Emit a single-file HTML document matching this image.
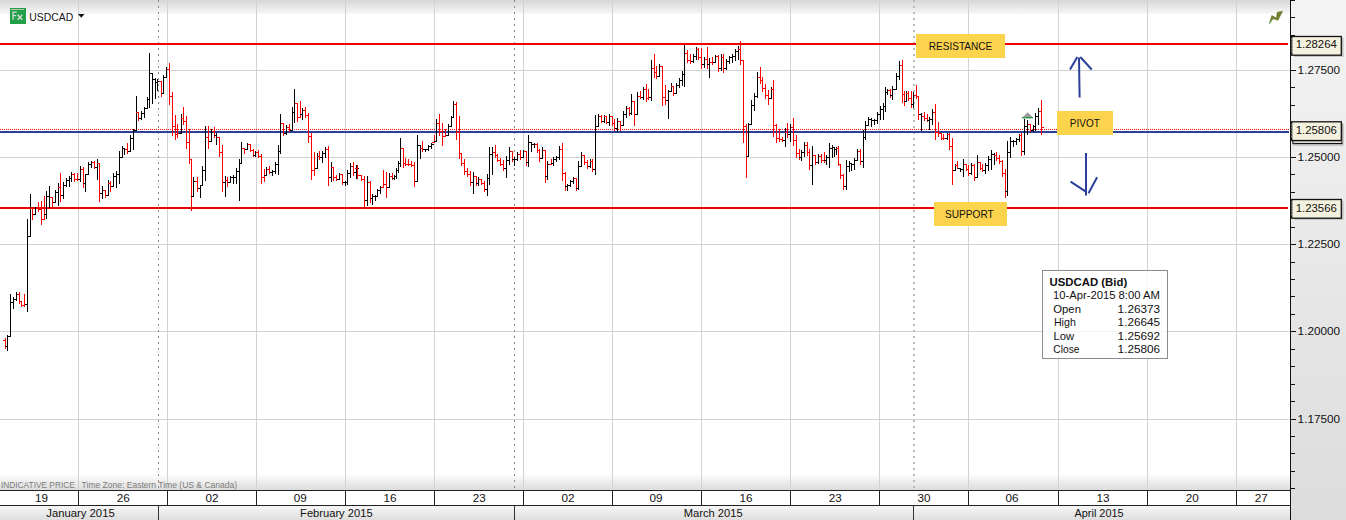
<!DOCTYPE html><html><head><meta charset="utf-8"><style>html,body{margin:0;padding:0;background:#fff}svg{display:block}text{font-family:"Liberation Sans",sans-serif}</style></head><body>
<svg width="1346" height="520" viewBox="0 0 1346 520">
<defs>
<linearGradient id="gtop" x1="0" y1="0" x2="0" y2="1"><stop offset="0" stop-color="#d7d7d7"/><stop offset="1" stop-color="#f8f8f8"/></linearGradient>
<linearGradient id="gbot" x1="0" y1="0" x2="0" y2="1"><stop offset="0" stop-color="#fcfcfc"/><stop offset="1" stop-color="#dcdcdc"/></linearGradient>
<linearGradient id="gright" x1="0" y1="0" x2="0" y2="1"><stop offset="0" stop-color="#f4f4f4"/><stop offset="1" stop-color="#dcdcdc"/></linearGradient>
<linearGradient id="gmonth" x1="0" y1="0" x2="0" y2="1"><stop offset="0" stop-color="#f7f7f7"/><stop offset="1" stop-color="#dedede"/></linearGradient>
</defs>
<rect x="0" y="0" width="1290" height="490" fill="#fff"/>
<rect x="0" y="0" width="1290" height="14" fill="url(#gtop)"/>
<rect x="0" y="475" width="1290" height="15" fill="url(#gbot)"/>
<rect x="1290" y="0" width="56" height="520" fill="url(#gright)"/>
<rect x="0" y="505" width="1290" height="15" fill="url(#gmonth)"/>
<rect x="0" y="490" width="1290" height="15" fill="#fff"/>
<g shape-rendering="crispEdges">
<rect x="0" y="70" width="1290" height="1" fill="#d2d2d2"/>
<rect x="0" y="157" width="1290" height="1" fill="#d2d2d2"/>
<rect x="0" y="244" width="1290" height="1" fill="#d2d2d2"/>
<rect x="0" y="331" width="1290" height="1" fill="#d2d2d2"/>
<rect x="0" y="419" width="1290" height="1" fill="#d2d2d2"/>
<rect x="78" y="0" width="1" height="490" fill="#d2d2d2"/>
<rect x="167" y="0" width="1" height="490" fill="#d2d2d2"/>
<rect x="256" y="0" width="1" height="490" fill="#d2d2d2"/>
<rect x="345" y="0" width="1" height="490" fill="#d2d2d2"/>
<rect x="434" y="0" width="1" height="490" fill="#d2d2d2"/>
<rect x="523" y="0" width="1" height="490" fill="#d2d2d2"/>
<rect x="612" y="0" width="1" height="490" fill="#d2d2d2"/>
<rect x="701" y="0" width="1" height="490" fill="#d2d2d2"/>
<rect x="790" y="0" width="1" height="490" fill="#d2d2d2"/>
<rect x="879" y="0" width="1" height="490" fill="#d2d2d2"/>
<rect x="968" y="0" width="1" height="490" fill="#d2d2d2"/>
<rect x="1058" y="0" width="1" height="490" fill="#d2d2d2"/>
<rect x="1147" y="0" width="1" height="490" fill="#d2d2d2"/>
<rect x="1236" y="0" width="1" height="490" fill="#d2d2d2"/>
<line x1="158.5" y1="0" x2="158.5" y2="490" stroke="#8a8a8a" stroke-width="1" stroke-dasharray="2 4"/>
<line x1="514.5" y1="0" x2="514.5" y2="490" stroke="#8a8a8a" stroke-width="1" stroke-dasharray="2 4"/>
<line x1="914" y1="0" x2="914" y2="490" stroke="#bababa" stroke-width="2" stroke-dasharray="2 4"/>
</g>
<g shape-rendering="crispEdges">
<rect x="0" y="43" width="1288" height="2" fill="#ee0000"/>
<rect x="0" y="207" width="1288" height="2" fill="#ee0000"/>
<line x1="0" y1="129.5" x2="1289" y2="129.5" stroke="#ff0000" stroke-width="1" stroke-dasharray="1 1"/>
<rect x="0" y="131" width="1289" height="2" fill="#2b3f9b"/>
</g>
<g shape-rendering="crispEdges">
<path d="M5 338h1v11h-1zM3 340h2v1h-2zM6 346h2v1h-2z" fill="#f00"/>
<path d="M7 335h1v16h-1zM5 346h2v1h-2zM8 336h2v1h-2z" fill="#000"/>
<path d="M10 294h1v43h-1zM8 336h2v1h-2zM11 302h2v1h-2z" fill="#000"/>
<path d="M13 297h1v12h-1zM11 302h2v1h-2zM14 299h2v1h-2z" fill="#000"/>
<path d="M16 292h1v9h-1zM14 299h2v1h-2zM17 294h2v1h-2z" fill="#000"/>
<path d="M19 292h1v12h-1zM17 294h2v1h-2zM20 301h2v1h-2z" fill="#f00"/>
<path d="M21 301h1v6h-1zM19 301h2v1h-2zM22 305h2v1h-2z" fill="#f00"/>
<path d="M24 294h1v13h-1zM22 305h2v1h-2zM25 304h2v1h-2z" fill="#f00"/>
<path d="M27 219h1v93h-1zM25 304h2v1h-2zM28 236h2v1h-2z" fill="#000"/>
<path d="M30 194h1v43h-1zM28 236h2v1h-2zM31 208h2v1h-2z" fill="#000"/>
<path d="M32 208h1v12h-1zM30 208h2v1h-2zM33 214h2v1h-2z" fill="#f00"/>
<path d="M35 207h1v8h-1zM33 214h2v1h-2zM36 208h2v1h-2z" fill="#000"/>
<path d="M38 202h1v10h-1zM36 208h2v1h-2zM39 209h2v1h-2z" fill="#f00"/>
<path d="M41 201h1v24h-1zM39 209h2v1h-2zM42 219h2v1h-2z" fill="#f00"/>
<path d="M44 196h1v24h-1zM42 219h2v1h-2zM45 214h2v1h-2z" fill="#f00"/>
<path d="M46 191h1v28h-1zM44 214h2v1h-2zM47 196h2v1h-2z" fill="#000"/>
<path d="M49 186h1v22h-1zM47 196h2v1h-2zM50 197h2v1h-2z" fill="#000"/>
<path d="M52 197h1v10h-1zM50 197h2v1h-2zM53 202h2v1h-2z" fill="#f00"/>
<path d="M55 190h1v13h-1zM53 202h2v1h-2zM56 192h2v1h-2z" fill="#000"/>
<path d="M58 183h1v23h-1zM56 192h2v1h-2zM59 187h2v1h-2z" fill="#000"/>
<path d="M60 173h1v29h-1zM58 187h2v1h-2zM61 195h2v1h-2z" fill="#f00"/>
<path d="M63 182h1v17h-1zM61 195h2v1h-2zM64 185h2v1h-2z" fill="#000"/>
<path d="M66 178h1v9h-1zM64 185h2v1h-2zM67 180h2v1h-2z" fill="#000"/>
<path d="M69 176h1v11h-1zM67 180h2v1h-2zM70 178h2v1h-2z" fill="#000"/>
<path d="M71 172h1v10h-1zM69 178h2v1h-2zM72 174h2v1h-2z" fill="#000"/>
<path d="M74 173h1v9h-1zM72 174h2v1h-2zM75 179h2v1h-2z" fill="#f00"/>
<path d="M77 173h1v8h-1zM75 179h2v1h-2zM78 179h2v1h-2z" fill="#f00"/>
<path d="M80 166h1v16h-1zM78 179h2v1h-2zM81 169h2v1h-2z" fill="#000"/>
<path d="M83 167h1v21h-1zM81 169h2v1h-2zM84 183h2v1h-2z" fill="#f00"/>
<path d="M85 174h1v18h-1zM83 183h2v1h-2zM86 174h2v1h-2z" fill="#000"/>
<path d="M88 162h1v13h-1zM86 174h2v1h-2zM89 164h2v1h-2z" fill="#000"/>
<path d="M91 161h1v7h-1zM89 164h2v1h-2zM92 162h2v1h-2z" fill="#000"/>
<path d="M94 161h1v8h-1zM92 162h2v1h-2zM95 167h2v1h-2z" fill="#f00"/>
<path d="M97 159h1v21h-1zM95 167h2v1h-2zM98 163h2v1h-2z" fill="#000"/>
<path d="M99 163h1v39h-1zM97 163h2v1h-2zM100 193h2v1h-2z" fill="#f00"/>
<path d="M102 186h1v13h-1zM100 193h2v1h-2zM103 190h2v1h-2z" fill="#000"/>
<path d="M105 190h1v8h-1zM103 190h2v1h-2zM106 195h2v1h-2z" fill="#f00"/>
<path d="M108 180h1v16h-1zM106 195h2v1h-2zM109 183h2v1h-2z" fill="#000"/>
<path d="M110 181h1v11h-1zM108 183h2v1h-2zM111 186h2v1h-2z" fill="#f00"/>
<path d="M113 173h1v14h-1zM111 186h2v1h-2zM114 176h2v1h-2z" fill="#000"/>
<path d="M116 171h1v17h-1zM114 176h2v1h-2zM117 174h2v1h-2z" fill="#000"/>
<path d="M119 151h1v33h-1zM117 174h2v1h-2zM120 157h2v1h-2z" fill="#000"/>
<path d="M122 146h1v12h-1zM120 157h2v1h-2zM123 148h2v1h-2z" fill="#000"/>
<path d="M124 148h1v7h-1zM122 148h2v1h-2zM125 149h2v1h-2z" fill="#000"/>
<path d="M127 143h1v11h-1zM125 149h2v1h-2zM128 151h2v1h-2z" fill="#f00"/>
<path d="M130 135h1v17h-1zM128 151h2v1h-2zM131 138h2v1h-2z" fill="#000"/>
<path d="M133 129h1v21h-1zM131 138h2v1h-2zM134 130h2v1h-2z" fill="#000"/>
<path d="M136 96h1v35h-1zM134 130h2v1h-2zM137 112h2v1h-2z" fill="#000"/>
<path d="M138 112h1v9h-1zM136 112h2v1h-2zM139 118h2v1h-2z" fill="#f00"/>
<path d="M141 111h1v9h-1zM139 118h2v1h-2zM142 113h2v1h-2z" fill="#000"/>
<path d="M144 107h1v11h-1zM142 113h2v1h-2zM145 108h2v1h-2z" fill="#000"/>
<path d="M147 97h1v12h-1zM145 108h2v1h-2zM148 99h2v1h-2z" fill="#000"/>
<path d="M149 53h1v55h-1zM147 99h2v1h-2zM150 73h2v1h-2z" fill="#000"/>
<path d="M152 73h1v31h-1zM150 73h2v1h-2zM153 79h2v1h-2z" fill="#000"/>
<path d="M155 78h1v21h-1zM153 79h2v1h-2zM156 82h2v1h-2z" fill="#000"/>
<path d="M157 79h1v12h-1zM155 82h2v1h-2zM158 81h2v1h-2z" fill="#000"/>
<path d="M161 81h1v16h-1zM159 81h2v1h-2zM162 93h2v1h-2z" fill="#f00"/>
<path d="M163 75h1v19h-1zM161 93h2v1h-2zM164 77h2v1h-2z" fill="#000"/>
<path d="M166 67h1v11h-1zM164 77h2v1h-2zM167 69h2v1h-2z" fill="#000"/>
<path d="M169 63h1v42h-1zM167 69h2v1h-2zM170 96h2v1h-2z" fill="#f00"/>
<path d="M172 92h1v44h-1zM170 96h2v1h-2zM173 126h2v1h-2z" fill="#f00"/>
<path d="M175 115h1v25h-1zM173 126h2v1h-2zM176 134h2v1h-2z" fill="#f00"/>
<path d="M177 124h1v14h-1zM175 134h2v1h-2zM178 133h2v1h-2z" fill="#f00"/>
<path d="M181 114h1v20h-1zM179 133h2v1h-2zM182 118h2v1h-2z" fill="#000"/>
<path d="M183 107h1v18h-1zM181 118h2v1h-2zM184 121h2v1h-2z" fill="#f00"/>
<path d="M186 116h1v33h-1zM184 121h2v1h-2zM187 142h2v1h-2z" fill="#f00"/>
<path d="M189 129h1v35h-1zM187 142h2v1h-2zM190 159h2v1h-2z" fill="#f00"/>
<path d="M191 159h1v52h-1zM189 159h2v1h-2zM192 196h2v1h-2z" fill="#f00"/>
<path d="M193 177h1v20h-1zM191 196h2v1h-2zM194 181h2v1h-2z" fill="#000"/>
<path d="M197 177h1v15h-1zM195 181h2v1h-2zM198 188h2v1h-2z" fill="#f00"/>
<path d="M200 185h1v13h-1zM198 188h2v1h-2zM201 185h2v1h-2z" fill="#000"/>
<path d="M202 166h1v20h-1zM200 185h2v1h-2zM203 170h2v1h-2z" fill="#000"/>
<path d="M205 126h1v55h-1zM203 170h2v1h-2zM206 137h2v1h-2z" fill="#000"/>
<path d="M208 126h1v23h-1zM206 137h2v1h-2zM209 141h2v1h-2z" fill="#f00"/>
<path d="M211 129h1v13h-1zM209 141h2v1h-2zM212 131h2v1h-2z" fill="#000"/>
<path d="M214 127h1v11h-1zM212 131h2v1h-2zM215 135h2v1h-2z" fill="#f00"/>
<path d="M216 133h1v12h-1zM214 135h2v1h-2zM217 137h2v1h-2z" fill="#000"/>
<path d="M219 137h1v20h-1zM217 137h2v1h-2zM220 152h2v1h-2z" fill="#f00"/>
<path d="M222 145h1v47h-1zM220 152h2v1h-2zM223 182h2v1h-2z" fill="#f00"/>
<path d="M225 176h1v21h-1zM223 182h2v1h-2zM226 180h2v1h-2z" fill="#000"/>
<path d="M227 177h1v10h-1zM225 180h2v1h-2zM228 182h2v1h-2z" fill="#f00"/>
<path d="M230 176h1v7h-1zM228 182h2v1h-2zM231 177h2v1h-2z" fill="#000"/>
<path d="M233 175h1v9h-1zM231 177h2v1h-2zM234 177h2v1h-2z" fill="#000"/>
<path d="M236 168h1v16h-1zM234 177h2v1h-2zM237 171h2v1h-2z" fill="#000"/>
<path d="M239 159h1v42h-1zM237 171h2v1h-2zM240 163h2v1h-2z" fill="#000"/>
<path d="M241 142h1v22h-1zM239 163h2v1h-2zM242 148h2v1h-2z" fill="#000"/>
<path d="M244 148h1v6h-1zM242 148h2v1h-2zM245 149h2v1h-2z" fill="#f00"/>
<path d="M247 143h1v7h-1zM245 149h2v1h-2zM248 144h2v1h-2z" fill="#000"/>
<path d="M250 144h1v8h-1zM248 144h2v1h-2zM251 150h2v1h-2z" fill="#f00"/>
<path d="M253 149h1v8h-1zM251 150h2v1h-2zM254 155h2v1h-2z" fill="#f00"/>
<path d="M255 151h1v6h-1zM253 155h2v1h-2zM256 152h2v1h-2z" fill="#000"/>
<path d="M258 150h1v8h-1zM256 152h2v1h-2zM259 156h2v1h-2z" fill="#f00"/>
<path d="M261 154h1v30h-1zM259 156h2v1h-2zM262 177h2v1h-2z" fill="#f00"/>
<path d="M264 169h1v13h-1zM262 177h2v1h-2zM265 175h2v1h-2z" fill="#f00"/>
<path d="M266 167h1v9h-1zM264 175h2v1h-2zM267 169h2v1h-2z" fill="#000"/>
<path d="M269 166h1v8h-1zM267 169h2v1h-2zM270 172h2v1h-2z" fill="#f00"/>
<path d="M272 170h1v6h-1zM270 172h2v1h-2zM273 171h2v1h-2z" fill="#000"/>
<path d="M275 162h1v12h-1zM273 171h2v1h-2zM276 164h2v1h-2z" fill="#000"/>
<path d="M278 145h1v30h-1zM276 164h2v1h-2zM279 151h2v1h-2z" fill="#000"/>
<path d="M280 114h1v40h-1zM278 151h2v1h-2zM281 123h2v1h-2z" fill="#000"/>
<path d="M283 123h1v13h-1zM281 123h2v1h-2zM284 133h2v1h-2z" fill="#f00"/>
<path d="M286 125h1v10h-1zM284 133h2v1h-2zM287 127h2v1h-2z" fill="#000"/>
<path d="M289 124h1v8h-1zM287 127h2v1h-2zM290 130h2v1h-2z" fill="#f00"/>
<path d="M292 107h1v24h-1zM290 130h2v1h-2zM293 112h2v1h-2z" fill="#000"/>
<path d="M294 89h1v34h-1zM292 112h2v1h-2zM295 103h2v1h-2z" fill="#000"/>
<path d="M297 103h1v19h-1zM295 103h2v1h-2zM298 117h2v1h-2z" fill="#f00"/>
<path d="M300 101h1v17h-1zM298 117h2v1h-2zM301 114h2v1h-2z" fill="#f00"/>
<path d="M302 108h1v12h-1zM300 114h2v1h-2zM303 110h2v1h-2z" fill="#000"/>
<path d="M305 107h1v11h-1zM303 110h2v1h-2zM306 115h2v1h-2z" fill="#f00"/>
<path d="M308 113h1v30h-1zM306 115h2v1h-2zM309 136h2v1h-2z" fill="#f00"/>
<path d="M311 133h1v47h-1zM309 136h2v1h-2zM312 170h2v1h-2z" fill="#f00"/>
<path d="M314 152h1v24h-1zM312 170h2v1h-2zM315 168h2v1h-2z" fill="#f00"/>
<path d="M317 153h1v16h-1zM315 168h2v1h-2zM318 156h2v1h-2z" fill="#000"/>
<path d="M319 151h1v9h-1zM317 156h2v1h-2zM320 157h2v1h-2z" fill="#f00"/>
<path d="M322 151h1v12h-1zM320 157h2v1h-2zM323 153h2v1h-2z" fill="#000"/>
<path d="M325 147h1v11h-1zM323 153h2v1h-2zM326 149h2v1h-2z" fill="#000"/>
<path d="M328 146h1v40h-1zM326 149h2v1h-2zM329 177h2v1h-2z" fill="#f00"/>
<path d="M331 162h1v20h-1zM329 177h2v1h-2zM332 167h2v1h-2z" fill="#000"/>
<path d="M333 167h1v14h-1zM331 167h2v1h-2zM334 177h2v1h-2z" fill="#f00"/>
<path d="M336 175h1v6h-1zM334 177h2v1h-2zM337 179h2v1h-2z" fill="#f00"/>
<path d="M339 173h1v7h-1zM337 179h2v1h-2zM340 174h2v1h-2z" fill="#000"/>
<path d="M342 174h1v11h-1zM340 174h2v1h-2zM343 182h2v1h-2z" fill="#f00"/>
<path d="M345 181h1v5h-1zM343 182h2v1h-2zM346 182h2v1h-2z" fill="#000"/>
<path d="M347 170h1v15h-1zM345 182h2v1h-2zM348 173h2v1h-2z" fill="#000"/>
<path d="M350 163h1v15h-1zM348 173h2v1h-2zM351 166h2v1h-2z" fill="#000"/>
<path d="M353 162h1v14h-1zM351 166h2v1h-2zM354 172h2v1h-2z" fill="#f00"/>
<path d="M356 165h1v14h-1zM354 172h2v1h-2zM357 168h2v1h-2z" fill="#000"/>
<path d="M357 165h1v14h-1zM355 168h2v1h-2zM358 175h2v1h-2z" fill="#f00"/>
<path d="M361 175h1v6h-1zM359 175h2v1h-2zM362 179h2v1h-2z" fill="#f00"/>
<path d="M364 176h1v31h-1zM362 179h2v1h-2zM365 200h2v1h-2z" fill="#f00"/>
<path d="M367 176h1v30h-1zM365 200h2v1h-2zM368 182h2v1h-2z" fill="#000"/>
<path d="M370 181h1v22h-1zM368 182h2v1h-2zM371 198h2v1h-2z" fill="#f00"/>
<path d="M372 194h1v11h-1zM370 198h2v1h-2zM373 196h2v1h-2z" fill="#000"/>
<path d="M375 195h1v6h-1zM373 196h2v1h-2zM376 196h2v1h-2z" fill="#000"/>
<path d="M377 189h1v8h-1zM375 196h2v1h-2zM378 190h2v1h-2z" fill="#000"/>
<path d="M380 186h1v8h-1zM378 190h2v1h-2zM381 187h2v1h-2z" fill="#000"/>
<path d="M383 170h1v18h-1zM381 187h2v1h-2zM384 184h2v1h-2z" fill="#f00"/>
<path d="M386 172h1v26h-1zM384 184h2v1h-2zM387 187h2v1h-2z" fill="#f00"/>
<path d="M389 173h1v15h-1zM387 187h2v1h-2zM390 176h2v1h-2z" fill="#000"/>
<path d="M392 173h1v7h-1zM390 176h2v1h-2zM393 178h2v1h-2z" fill="#f00"/>
<path d="M394 175h1v5h-1zM392 178h2v1h-2zM395 176h2v1h-2z" fill="#000"/>
<path d="M396 168h1v11h-1zM394 176h2v1h-2zM397 170h2v1h-2z" fill="#000"/>
<path d="M398 161h1v12h-1zM396 170h2v1h-2zM399 163h2v1h-2z" fill="#000"/>
<path d="M400 138h1v29h-1zM398 163h2v1h-2zM401 148h2v1h-2z" fill="#000"/>
<path d="M403 148h1v20h-1zM401 148h2v1h-2zM404 163h2v1h-2z" fill="#f00"/>
<path d="M405 158h1v8h-1zM403 163h2v1h-2zM406 164h2v1h-2z" fill="#f00"/>
<path d="M408 159h1v7h-1zM406 164h2v1h-2zM409 164h2v1h-2z" fill="#f00"/>
<path d="M411 161h1v6h-1zM409 164h2v1h-2zM412 165h2v1h-2z" fill="#f00"/>
<path d="M414 162h1v25h-1zM412 165h2v1h-2zM415 181h2v1h-2z" fill="#f00"/>
<path d="M417 135h1v47h-1zM415 181h2v1h-2zM418 145h2v1h-2z" fill="#000"/>
<path d="M420 145h1v14h-1zM418 145h2v1h-2zM421 148h2v1h-2z" fill="#000"/>
<path d="M422 141h1v11h-1zM420 148h2v1h-2zM423 149h2v1h-2z" fill="#f00"/>
<path d="M425 149h1v3h-1zM423 149h2v1h-2zM426 149h2v1h-2z" fill="#000"/>
<path d="M428 145h1v6h-1zM426 149h2v1h-2zM429 146h2v1h-2z" fill="#000"/>
<path d="M431 143h1v6h-1zM429 146h2v1h-2zM432 144h2v1h-2z" fill="#000"/>
<path d="M434 135h1v8h-1zM432 142h2v1h-2zM435 141h2v1h-2z" fill="#f00"/>
<path d="M436 119h1v23h-1zM434 141h2v1h-2zM437 123h2v1h-2z" fill="#000"/>
<path d="M439 114h1v22h-1zM437 123h2v1h-2zM440 131h2v1h-2z" fill="#f00"/>
<path d="M442 123h1v23h-1zM440 131h2v1h-2zM443 136h2v1h-2z" fill="#f00"/>
<path d="M445 129h1v8h-1zM443 136h2v1h-2zM446 135h2v1h-2z" fill="#f00"/>
<path d="M448 124h1v12h-1zM446 135h2v1h-2zM449 126h2v1h-2z" fill="#000"/>
<path d="M451 116h1v11h-1zM449 126h2v1h-2zM452 117h2v1h-2z" fill="#000"/>
<path d="M453 101h1v17h-1zM451 117h2v1h-2zM454 104h2v1h-2z" fill="#000"/>
<path d="M456 102h1v38h-1zM454 104h2v1h-2zM457 132h2v1h-2z" fill="#f00"/>
<path d="M459 116h1v43h-1zM457 132h2v1h-2zM460 153h2v1h-2z" fill="#f00"/>
<path d="M461 153h1v13h-1zM459 153h2v1h-2zM462 163h2v1h-2z" fill="#f00"/>
<path d="M464 159h1v16h-1zM462 163h2v1h-2zM465 171h2v1h-2z" fill="#f00"/>
<path d="M467 168h1v9h-1zM465 171h2v1h-2zM468 174h2v1h-2z" fill="#f00"/>
<path d="M470 171h1v15h-1zM468 174h2v1h-2zM471 182h2v1h-2z" fill="#f00"/>
<path d="M473 172h1v22h-1zM471 182h2v1h-2zM474 176h2v1h-2z" fill="#000"/>
<path d="M476 176h1v10h-1zM474 176h2v1h-2zM477 183h2v1h-2z" fill="#f00"/>
<path d="M478 177h1v9h-1zM476 183h2v1h-2zM479 179h2v1h-2z" fill="#000"/>
<path d="M481 179h1v6h-1zM479 179h2v1h-2zM482 183h2v1h-2z" fill="#f00"/>
<path d="M484 181h1v11h-1zM482 183h2v1h-2zM485 189h2v1h-2z" fill="#f00"/>
<path d="M487 174h1v22h-1zM485 189h2v1h-2zM488 178h2v1h-2z" fill="#000"/>
<path d="M489 147h1v38h-1zM487 178h2v1h-2zM490 154h2v1h-2z" fill="#000"/>
<path d="M492 147h1v28h-1zM490 154h2v1h-2zM493 152h2v1h-2z" fill="#000"/>
<path d="M495 145h1v13h-1zM493 152h2v1h-2zM496 155h2v1h-2z" fill="#f00"/>
<path d="M497 154h1v8h-1zM495 155h2v1h-2zM498 160h2v1h-2z" fill="#f00"/>
<path d="M500 158h1v8h-1zM498 160h2v1h-2zM501 164h2v1h-2z" fill="#f00"/>
<path d="M503 160h1v11h-1zM501 164h2v1h-2zM504 168h2v1h-2z" fill="#f00"/>
<path d="M506 156h1v22h-1zM504 168h2v1h-2zM507 160h2v1h-2z" fill="#000"/>
<path d="M509 147h1v18h-1zM507 160h2v1h-2zM510 151h2v1h-2z" fill="#000"/>
<path d="M512 151h1v11h-1zM510 151h2v1h-2zM513 159h2v1h-2z" fill="#f00"/>
<path d="M514 157h1v9h-1zM512 159h2v1h-2zM515 159h2v1h-2z" fill="#000"/>
<path d="M517 152h1v9h-1zM515 159h2v1h-2zM518 154h2v1h-2z" fill="#000"/>
<path d="M520 150h1v10h-1zM518 154h2v1h-2zM521 157h2v1h-2z" fill="#f00"/>
<path d="M523 150h1v8h-1zM521 157h2v1h-2zM524 151h2v1h-2z" fill="#000"/>
<path d="M526 151h1v15h-1zM524 151h2v1h-2zM527 162h2v1h-2z" fill="#f00"/>
<path d="M528 135h1v32h-1zM526 162h2v1h-2zM529 142h2v1h-2z" fill="#000"/>
<path d="M531 142h1v10h-1zM529 142h2v1h-2zM532 144h2v1h-2z" fill="#000"/>
<path d="M534 143h1v5h-1zM532 144h2v1h-2zM535 144h2v1h-2z" fill="#000"/>
<path d="M537 143h1v10h-1zM535 144h2v1h-2zM538 150h2v1h-2z" fill="#f00"/>
<path d="M539 149h1v13h-1zM537 150h2v1h-2zM540 158h2v1h-2z" fill="#f00"/>
<path d="M542 147h1v12h-1zM540 158h2v1h-2zM543 150h2v1h-2z" fill="#000"/>
<path d="M545 150h1v33h-1zM543 150h2v1h-2zM546 176h2v1h-2z" fill="#f00"/>
<path d="M547 161h1v19h-1zM545 176h2v1h-2zM548 164h2v1h-2z" fill="#000"/>
<path d="M551 159h1v6h-1zM549 164h2v1h-2zM552 163h2v1h-2z" fill="#f00"/>
<path d="M553 157h1v9h-1zM551 163h2v1h-2zM554 159h2v1h-2z" fill="#000"/>
<path d="M556 156h1v6h-1zM554 159h2v1h-2zM557 157h2v1h-2z" fill="#000"/>
<path d="M559 146h1v14h-1zM557 157h2v1h-2zM560 149h2v1h-2z" fill="#000"/>
<path d="M562 143h1v38h-1zM560 149h2v1h-2zM563 173h2v1h-2z" fill="#f00"/>
<path d="M565 172h1v19h-1zM563 173h2v1h-2zM566 186h2v1h-2z" fill="#f00"/>
<path d="M567 184h1v7h-1zM565 186h2v1h-2zM568 185h2v1h-2z" fill="#000"/>
<path d="M570 180h1v7h-1zM568 185h2v1h-2zM571 181h2v1h-2z" fill="#000"/>
<path d="M573 177h1v7h-1zM571 181h2v1h-2zM574 178h2v1h-2z" fill="#000"/>
<path d="M576 178h1v13h-1zM574 178h2v1h-2zM577 188h2v1h-2z" fill="#f00"/>
<path d="M578 161h1v29h-1zM576 188h2v1h-2zM579 166h2v1h-2z" fill="#000"/>
<path d="M581 152h1v15h-1zM579 166h2v1h-2zM582 155h2v1h-2z" fill="#000"/>
<path d="M584 155h1v10h-1zM582 155h2v1h-2zM585 162h2v1h-2z" fill="#f00"/>
<path d="M587 160h1v9h-1zM585 162h2v1h-2zM588 166h2v1h-2z" fill="#f00"/>
<path d="M590 159h1v9h-1zM588 166h2v1h-2zM591 161h2v1h-2z" fill="#000"/>
<path d="M592 159h1v13h-1zM590 161h2v1h-2zM593 169h2v1h-2z" fill="#f00"/>
<path d="M595 115h1v60h-1zM593 169h2v1h-2zM596 126h2v1h-2z" fill="#000"/>
<path d="M598 114h1v13h-1zM596 126h2v1h-2zM599 116h2v1h-2z" fill="#000"/>
<path d="M601 115h1v8h-1zM599 116h2v1h-2zM602 121h2v1h-2z" fill="#f00"/>
<path d="M604 115h1v8h-1zM602 121h2v1h-2zM605 116h2v1h-2z" fill="#000"/>
<path d="M606 116h1v8h-1zM604 116h2v1h-2zM607 122h2v1h-2z" fill="#f00"/>
<path d="M609 114h1v12h-1zM607 122h2v1h-2zM610 116h2v1h-2z" fill="#000"/>
<path d="M612 116h1v10h-1zM610 116h2v1h-2zM613 123h2v1h-2z" fill="#f00"/>
<path d="M614 119h1v12h-1zM612 123h2v1h-2zM615 128h2v1h-2z" fill="#f00"/>
<path d="M617 118h1v14h-1zM615 128h2v1h-2zM618 121h2v1h-2z" fill="#000"/>
<path d="M620 121h1v10h-1zM618 121h2v1h-2zM621 125h2v1h-2z" fill="#f00"/>
<path d="M623 111h1v15h-1zM621 125h2v1h-2zM624 114h2v1h-2z" fill="#000"/>
<path d="M626 106h1v12h-1zM624 114h2v1h-2zM627 108h2v1h-2z" fill="#000"/>
<path d="M629 107h1v9h-1zM627 108h2v1h-2zM630 113h2v1h-2z" fill="#f00"/>
<path d="M631 94h1v21h-1zM629 113h2v1h-2zM632 101h2v1h-2z" fill="#000"/>
<path d="M634 101h1v25h-1zM632 101h2v1h-2zM635 114h2v1h-2z" fill="#f00"/>
<path d="M637 92h1v23h-1zM635 114h2v1h-2zM638 96h2v1h-2z" fill="#000"/>
<path d="M640 91h1v8h-1zM638 96h2v1h-2zM641 97h2v1h-2z" fill="#f00"/>
<path d="M643 87h1v13h-1zM641 97h2v1h-2zM644 89h2v1h-2z" fill="#000"/>
<path d="M646 84h1v18h-1zM644 89h2v1h-2zM647 98h2v1h-2z" fill="#f00"/>
<path d="M648 89h1v11h-1zM646 98h2v1h-2zM649 97h2v1h-2z" fill="#f00"/>
<path d="M651 60h1v41h-1zM649 97h2v1h-2zM652 68h2v1h-2z" fill="#000"/>
<path d="M654 54h1v24h-1zM652 68h2v1h-2zM655 72h2v1h-2z" fill="#f00"/>
<path d="M656 66h1v13h-1zM654 72h2v1h-2zM657 76h2v1h-2z" fill="#f00"/>
<path d="M659 64h1v13h-1zM657 76h2v1h-2zM660 66h2v1h-2z" fill="#000"/>
<path d="M662 66h1v40h-1zM660 66h2v1h-2zM663 97h2v1h-2z" fill="#f00"/>
<path d="M665 85h1v20h-1zM663 97h2v1h-2zM666 100h2v1h-2z" fill="#f00"/>
<path d="M668 90h1v29h-1zM666 100h2v1h-2zM669 91h2v1h-2z" fill="#000"/>
<path d="M671 83h1v9h-1zM669 91h2v1h-2zM672 86h2v1h-2z" fill="#000"/>
<path d="M673 86h1v10h-1zM671 86h2v1h-2zM674 93h2v1h-2z" fill="#f00"/>
<path d="M676 83h1v11h-1zM674 93h2v1h-2zM677 85h2v1h-2z" fill="#000"/>
<path d="M679 78h1v10h-1zM677 85h2v1h-2zM680 80h2v1h-2z" fill="#000"/>
<path d="M682 71h1v15h-1zM680 80h2v1h-2zM683 74h2v1h-2z" fill="#000"/>
<path d="M684 45h1v42h-1zM682 74h2v1h-2zM685 53h2v1h-2z" fill="#000"/>
<path d="M687 50h1v13h-1zM685 53h2v1h-2zM688 60h2v1h-2z" fill="#f00"/>
<path d="M690 54h1v10h-1zM688 60h2v1h-2zM691 61h2v1h-2z" fill="#f00"/>
<path d="M693 54h1v9h-1zM691 61h2v1h-2zM694 56h2v1h-2z" fill="#000"/>
<path d="M696 47h1v13h-1zM694 56h2v1h-2zM697 49h2v1h-2z" fill="#000"/>
<path d="M698 48h1v12h-1zM696 49h2v1h-2zM699 57h2v1h-2z" fill="#f00"/>
<path d="M701 48h1v21h-1zM699 57h2v1h-2zM702 64h2v1h-2z" fill="#f00"/>
<path d="M704 57h1v11h-1zM702 64h2v1h-2zM705 59h2v1h-2z" fill="#000"/>
<path d="M707 47h1v22h-1zM705 59h2v1h-2zM708 64h2v1h-2z" fill="#f00"/>
<path d="M709 58h1v20h-1zM707 64h2v1h-2zM710 62h2v1h-2z" fill="#000"/>
<path d="M712 57h1v8h-1zM710 62h2v1h-2zM713 62h2v1h-2z" fill="#f00"/>
<path d="M715 55h1v8h-1zM713 62h2v1h-2zM716 56h2v1h-2z" fill="#000"/>
<path d="M718 55h1v17h-1zM716 56h2v1h-2zM719 68h2v1h-2z" fill="#f00"/>
<path d="M721 54h1v17h-1zM719 68h2v1h-2zM722 57h2v1h-2z" fill="#000"/>
<path d="M723 54h1v19h-1zM721 57h2v1h-2zM724 68h2v1h-2z" fill="#f00"/>
<path d="M726 59h1v11h-1zM724 68h2v1h-2zM727 61h2v1h-2z" fill="#000"/>
<path d="M729 56h1v8h-1zM727 61h2v1h-2zM730 57h2v1h-2z" fill="#000"/>
<path d="M732 54h1v9h-1zM730 57h2v1h-2zM733 56h2v1h-2z" fill="#000"/>
<path d="M735 49h1v12h-1zM733 56h2v1h-2zM736 51h2v1h-2z" fill="#000"/>
<path d="M738 46h1v14h-1zM736 51h2v1h-2zM739 49h2v1h-2z" fill="#000"/>
<path d="M740 41h1v24h-1zM738 49h2v1h-2zM741 60h2v1h-2z" fill="#f00"/>
<path d="M743 60h1v83h-1zM741 60h2v1h-2zM744 126h2v1h-2z" fill="#f00"/>
<path d="M746 124h1v54h-1zM744 126h2v1h-2zM747 156h2v1h-2z" fill="#f00"/>
<path d="M748 123h1v34h-1zM746 156h2v1h-2zM749 124h2v1h-2z" fill="#000"/>
<path d="M751 100h1v25h-1zM749 124h2v1h-2zM752 105h2v1h-2z" fill="#000"/>
<path d="M754 93h1v18h-1zM752 105h2v1h-2zM755 96h2v1h-2z" fill="#000"/>
<path d="M757 72h1v26h-1zM755 96h2v1h-2zM758 77h2v1h-2z" fill="#000"/>
<path d="M760 67h1v17h-1zM758 77h2v1h-2zM761 80h2v1h-2z" fill="#f00"/>
<path d="M762 77h1v15h-1zM760 80h2v1h-2zM763 88h2v1h-2z" fill="#f00"/>
<path d="M765 84h1v15h-1zM763 88h2v1h-2zM766 95h2v1h-2z" fill="#f00"/>
<path d="M768 90h1v15h-1zM766 95h2v1h-2zM769 98h2v1h-2z" fill="#f00"/>
<path d="M771 87h1v12h-1zM769 98h2v1h-2zM772 89h2v1h-2z" fill="#000"/>
<path d="M773 80h1v57h-1zM771 89h2v1h-2zM774 125h2v1h-2z" fill="#f00"/>
<path d="M776 124h1v19h-1zM774 125h2v1h-2zM777 138h2v1h-2z" fill="#f00"/>
<path d="M779 129h1v13h-1zM777 138h2v1h-2zM780 139h2v1h-2z" fill="#f00"/>
<path d="M782 137h1v5h-1zM780 139h2v1h-2zM783 140h2v1h-2z" fill="#f00"/>
<path d="M785 128h1v19h-1zM783 140h2v1h-2zM786 132h2v1h-2z" fill="#000"/>
<path d="M787 123h1v15h-1zM785 132h2v1h-2zM788 134h2v1h-2z" fill="#f00"/>
<path d="M790 124h1v18h-1zM788 134h2v1h-2zM791 127h2v1h-2z" fill="#000"/>
<path d="M793 118h1v28h-1zM791 127h2v1h-2zM794 140h2v1h-2z" fill="#f00"/>
<path d="M796 135h1v23h-1zM794 140h2v1h-2zM797 153h2v1h-2z" fill="#f00"/>
<path d="M799 149h1v11h-1zM797 153h2v1h-2zM800 157h2v1h-2z" fill="#f00"/>
<path d="M801 150h1v11h-1zM799 157h2v1h-2zM802 152h2v1h-2z" fill="#000"/>
<path d="M804 142h1v15h-1zM802 152h2v1h-2zM805 145h2v1h-2z" fill="#000"/>
<path d="M807 142h1v14h-1zM805 145h2v1h-2zM808 152h2v1h-2z" fill="#f00"/>
<path d="M809 149h1v21h-1zM807 152h2v1h-2zM810 165h2v1h-2z" fill="#f00"/>
<path d="M812 146h1v39h-1zM810 165h2v1h-2zM813 155h2v1h-2z" fill="#000"/>
<path d="M815 155h1v10h-1zM813 155h2v1h-2zM816 162h2v1h-2z" fill="#f00"/>
<path d="M818 154h1v10h-1zM816 162h2v1h-2zM819 156h2v1h-2z" fill="#000"/>
<path d="M821 154h1v9h-1zM819 156h2v1h-2zM822 160h2v1h-2z" fill="#f00"/>
<path d="M824 152h1v11h-1zM822 160h2v1h-2zM825 160h2v1h-2z" fill="#f00"/>
<path d="M826 155h1v10h-1zM824 160h2v1h-2zM827 157h2v1h-2z" fill="#000"/>
<path d="M829 143h1v25h-1zM827 157h2v1h-2zM830 148h2v1h-2z" fill="#000"/>
<path d="M832 145h1v13h-1zM830 148h2v1h-2zM833 147h2v1h-2z" fill="#000"/>
<path d="M834 147h1v10h-1zM832 147h2v1h-2zM835 149h2v1h-2z" fill="#000"/>
<path d="M836 147h1v8h-1zM834 149h2v1h-2zM837 148h2v1h-2z" fill="#000"/>
<path d="M838 146h1v20h-1zM836 148h2v1h-2zM839 164h2v1h-2z" fill="#f00"/>
<path d="M840 164h1v15h-1zM838 164h2v1h-2zM841 175h2v1h-2z" fill="#f00"/>
<path d="M843 174h1v16h-1zM841 175h2v1h-2zM844 186h2v1h-2z" fill="#f00"/>
<path d="M846 160h1v30h-1zM844 186h2v1h-2zM847 166h2v1h-2z" fill="#000"/>
<path d="M849 161h1v11h-1zM847 166h2v1h-2zM850 163h2v1h-2z" fill="#000"/>
<path d="M851 163h1v8h-1zM849 163h2v1h-2zM852 164h2v1h-2z" fill="#000"/>
<path d="M854 158h1v12h-1zM852 164h2v1h-2zM855 160h2v1h-2z" fill="#000"/>
<path d="M857 149h1v12h-1zM855 160h2v1h-2zM858 151h2v1h-2z" fill="#000"/>
<path d="M860 149h1v16h-1zM858 151h2v1h-2zM861 161h2v1h-2z" fill="#f00"/>
<path d="M863 130h1v38h-1zM861 161h2v1h-2zM864 137h2v1h-2z" fill="#000"/>
<path d="M865 121h1v19h-1zM863 137h2v1h-2zM866 125h2v1h-2z" fill="#000"/>
<path d="M868 117h1v9h-1zM866 125h2v1h-2zM869 119h2v1h-2z" fill="#000"/>
<path d="M871 118h1v9h-1zM869 119h2v1h-2zM872 120h2v1h-2z" fill="#000"/>
<path d="M874 119h1v6h-1zM872 120h2v1h-2zM875 120h2v1h-2z" fill="#000"/>
<path d="M877 112h1v12h-1zM875 120h2v1h-2zM878 114h2v1h-2z" fill="#000"/>
<path d="M880 106h1v14h-1zM878 114h2v1h-2zM881 109h2v1h-2z" fill="#000"/>
<path d="M883 103h1v17h-1zM881 109h2v1h-2zM884 106h2v1h-2z" fill="#000"/>
<path d="M885 87h1v25h-1zM883 106h2v1h-2zM886 92h2v1h-2z" fill="#000"/>
<path d="M887 89h1v6h-1zM885 92h2v1h-2zM888 90h2v1h-2z" fill="#000"/>
<path d="M890 89h1v9h-1zM888 90h2v1h-2zM891 95h2v1h-2z" fill="#f00"/>
<path d="M892 86h1v14h-1zM890 95h2v1h-2zM893 89h2v1h-2z" fill="#000"/>
<path d="M896 73h1v17h-1zM894 89h2v1h-2zM897 76h2v1h-2z" fill="#000"/>
<path d="M899 61h1v19h-1zM897 76h2v1h-2zM900 65h2v1h-2z" fill="#000"/>
<path d="M902 60h1v43h-1zM900 65h2v1h-2zM903 94h2v1h-2z" fill="#f00"/>
<path d="M904 91h1v15h-1zM902 94h2v1h-2zM905 101h2v1h-2z" fill="#f00"/>
<path d="M906 91h1v11h-1zM904 101h2v1h-2zM907 93h2v1h-2z" fill="#000"/>
<path d="M908 91h1v10h-1zM906 93h2v1h-2zM909 98h2v1h-2z" fill="#f00"/>
<path d="M911 91h1v17h-1zM909 98h2v1h-2zM912 104h2v1h-2z" fill="#f00"/>
<path d="M913 92h1v16h-1zM911 104h2v1h-2zM914 95h2v1h-2z" fill="#000"/>
<path d="M916 85h1v14h-1zM914 95h2v1h-2zM917 96h2v1h-2z" fill="#f00"/>
<path d="M918 96h1v24h-1zM916 96h2v1h-2zM919 114h2v1h-2z" fill="#f00"/>
<path d="M921 113h1v18h-1zM919 114h2v1h-2zM922 116h2v1h-2z" fill="#000"/>
<path d="M924 112h1v9h-1zM922 116h2v1h-2zM925 118h2v1h-2z" fill="#f00"/>
<path d="M927 114h1v8h-1zM925 118h2v1h-2zM928 120h2v1h-2z" fill="#f00"/>
<path d="M929 117h1v13h-1zM927 120h2v1h-2zM930 119h2v1h-2z" fill="#000"/>
<path d="M932 109h1v16h-1zM930 119h2v1h-2zM933 112h2v1h-2z" fill="#000"/>
<path d="M935 104h1v36h-1zM933 112h2v1h-2zM936 132h2v1h-2z" fill="#f00"/>
<path d="M938 122h1v15h-1zM936 132h2v1h-2zM939 133h2v1h-2z" fill="#f00"/>
<path d="M941 133h1v7h-1zM939 133h2v1h-2zM942 138h2v1h-2z" fill="#f00"/>
<path d="M943 134h1v6h-1zM941 138h2v1h-2zM944 138h2v1h-2z" fill="#f00"/>
<path d="M947 133h1v7h-1zM945 138h2v1h-2zM948 134h2v1h-2z" fill="#000"/>
<path d="M949 133h1v17h-1zM947 134h2v1h-2zM950 146h2v1h-2z" fill="#f00"/>
<path d="M952 138h1v47h-1zM950 146h2v1h-2zM953 170h2v1h-2z" fill="#f00"/>
<path d="M955 164h1v7h-1zM953 170h2v1h-2zM956 165h2v1h-2z" fill="#000"/>
<path d="M957 161h1v8h-1zM955 165h2v1h-2zM958 168h2v1h-2z" fill="#f00"/>
<path d="M960 168h1v4h-1zM958 168h2v1h-2zM961 169h2v1h-2z" fill="#000"/>
<path d="M963 159h1v18h-1zM961 169h2v1h-2zM964 164h2v1h-2z" fill="#000"/>
<path d="M966 164h1v7h-1zM964 164h2v1h-2zM967 169h2v1h-2z" fill="#f00"/>
<path d="M968 165h1v11h-1zM966 169h2v1h-2zM969 173h2v1h-2z" fill="#f00"/>
<path d="M971 163h1v12h-1zM969 173h2v1h-2zM972 165h2v1h-2z" fill="#000"/>
<path d="M974 164h1v17h-1zM972 165h2v1h-2zM975 177h2v1h-2z" fill="#f00"/>
<path d="M977 155h1v23h-1zM975 177h2v1h-2zM978 162h2v1h-2z" fill="#000"/>
<path d="M980 162h1v8h-1zM978 162h2v1h-2zM981 168h2v1h-2z" fill="#f00"/>
<path d="M982 164h1v8h-1zM980 168h2v1h-2zM983 170h2v1h-2z" fill="#f00"/>
<path d="M985 163h1v11h-1zM983 170h2v1h-2zM986 165h2v1h-2z" fill="#000"/>
<path d="M988 156h1v15h-1zM986 165h2v1h-2zM989 159h2v1h-2z" fill="#000"/>
<path d="M991 150h1v20h-1zM989 159h2v1h-2zM992 154h2v1h-2z" fill="#000"/>
<path d="M994 153h1v12h-1zM992 154h2v1h-2zM995 155h2v1h-2z" fill="#000"/>
<path d="M996 152h1v9h-1zM994 155h2v1h-2zM997 158h2v1h-2z" fill="#f00"/>
<path d="M999 155h1v9h-1zM997 158h2v1h-2zM1000 161h2v1h-2z" fill="#f00"/>
<path d="M1002 160h1v17h-1zM1000 161h2v1h-2zM1003 173h2v1h-2z" fill="#f00"/>
<path d="M1005 169h1v29h-1zM1003 173h2v1h-2zM1006 191h2v1h-2z" fill="#f00"/>
<path d="M1007 141h1v55h-1zM1005 191h2v1h-2zM1008 152h2v1h-2z" fill="#000"/>
<path d="M1010 137h1v21h-1zM1008 152h2v1h-2zM1011 141h2v1h-2z" fill="#000"/>
<path d="M1013 140h1v7h-1zM1011 141h2v1h-2zM1014 141h2v1h-2z" fill="#000"/>
<path d="M1016 138h1v7h-1zM1014 141h2v1h-2zM1017 139h2v1h-2z" fill="#000"/>
<path d="M1019 134h1v8h-1zM1017 139h2v1h-2zM1020 135h2v1h-2z" fill="#000"/>
<path d="M1021 133h1v23h-1zM1019 135h2v1h-2zM1022 151h2v1h-2z" fill="#f00"/>
<path d="M1024 119h1v36h-1zM1022 151h2v1h-2zM1025 126h2v1h-2z" fill="#000"/>
<path d="M1027 120h1v15h-1zM1025 126h2v1h-2zM1028 124h2v1h-2z" fill="#000"/>
<path d="M1030 124h1v8h-1zM1028 124h2v1h-2zM1031 130h2v1h-2z" fill="#f00"/>
<path d="M1033 125h1v7h-1zM1031 130h2v1h-2zM1034 126h2v1h-2z" fill="#000"/>
<path d="M1035 113h1v18h-1zM1033 126h2v1h-2zM1036 116h2v1h-2z" fill="#000"/>
<path d="M1038 108h1v17h-1zM1036 116h2v1h-2zM1039 111h2v1h-2z" fill="#000"/>
<path d="M1041 100h1v35h-1zM1039 111h2v1h-2zM1042 127h2v1h-2z" fill="#f00"/>
</g>
<g shape-rendering="crispEdges">
<rect x="1290" y="0" width="1" height="520" fill="#111"/>
<rect x="1290" y="0" width="5" height="1" fill="#111"/>
<rect x="1290" y="17" width="5" height="1" fill="#111"/>
<rect x="1290" y="35" width="5" height="1" fill="#111"/>
<rect x="1290" y="52" width="5" height="1" fill="#111"/>
<rect x="1290" y="70" width="6" height="1" fill="#111"/>
<rect x="1290" y="87" width="5" height="1" fill="#111"/>
<rect x="1290" y="105" width="5" height="1" fill="#111"/>
<rect x="1290" y="122" width="5" height="1" fill="#111"/>
<rect x="1290" y="139" width="5" height="1" fill="#111"/>
<rect x="1290" y="157" width="6" height="1" fill="#111"/>
<rect x="1290" y="174" width="5" height="1" fill="#111"/>
<rect x="1290" y="192" width="5" height="1" fill="#111"/>
<rect x="1290" y="209" width="5" height="1" fill="#111"/>
<rect x="1290" y="227" width="5" height="1" fill="#111"/>
<rect x="1290" y="244" width="6" height="1" fill="#111"/>
<rect x="1290" y="262" width="5" height="1" fill="#111"/>
<rect x="1290" y="279" width="5" height="1" fill="#111"/>
<rect x="1290" y="296" width="5" height="1" fill="#111"/>
<rect x="1290" y="314" width="5" height="1" fill="#111"/>
<rect x="1290" y="331" width="6" height="1" fill="#111"/>
<rect x="1290" y="349" width="5" height="1" fill="#111"/>
<rect x="1290" y="366" width="5" height="1" fill="#111"/>
<rect x="1290" y="384" width="5" height="1" fill="#111"/>
<rect x="1290" y="401" width="5" height="1" fill="#111"/>
<rect x="1290" y="419" width="6" height="1" fill="#111"/>
<rect x="1290" y="436" width="5" height="1" fill="#111"/>
<rect x="1290" y="453" width="5" height="1" fill="#111"/>
<rect x="1290" y="471" width="5" height="1" fill="#111"/>
<rect x="1290" y="488" width="5" height="1" fill="#111"/>
</g>
<g shape-rendering="crispEdges">
<rect x="0" y="490" width="1290" height="1" fill="#222"/>
<rect x="0" y="505" width="1290" height="1" fill="#222"/>
<rect x="78" y="490" width="1" height="15" fill="#222"/>
<rect x="167" y="490" width="1" height="15" fill="#222"/>
<rect x="256" y="490" width="1" height="15" fill="#222"/>
<rect x="345" y="490" width="1" height="15" fill="#222"/>
<rect x="434" y="490" width="1" height="15" fill="#222"/>
<rect x="523" y="490" width="1" height="15" fill="#222"/>
<rect x="612" y="490" width="1" height="15" fill="#222"/>
<rect x="701" y="490" width="1" height="15" fill="#222"/>
<rect x="790" y="490" width="1" height="15" fill="#222"/>
<rect x="879" y="490" width="1" height="15" fill="#222"/>
<rect x="968" y="490" width="1" height="15" fill="#222"/>
<rect x="1058" y="490" width="1" height="15" fill="#222"/>
<rect x="1147" y="490" width="1" height="15" fill="#222"/>
<rect x="1236" y="490" width="1" height="15" fill="#222"/>
<rect x="158" y="505" width="1" height="15" fill="#333"/>
<rect x="514" y="505" width="1" height="15" fill="#333"/>
<rect x="913" y="505" width="1" height="15" fill="#333"/>
</g>
<rect x="10" y="8" width="16" height="16" fill="#22a048"/>
<rect x="11" y="9" width="13" height="1" fill="#b8c4b8"/>
<path d="M13.1 11.6V19.8M12.3 12.2H16.8M12.3 15.6H16.2" stroke="#d6d6d6" stroke-width="1.3" fill="none"/>
<path d="M17.6 14.6L22.3 19.7M22.3 14.6L17.6 19.7" stroke="#dcdcdc" stroke-width="1.4" fill="none"/>
<text x="29.36" y="20.8" font-size="11" fill="#111" textLength="43.87" lengthAdjust="spacingAndGlyphs">USDCAD</text>
<path d="M78 14H84.5L81.25 17.8Z" fill="#111"/>
<path d="M1269.3 23.8L1271.8 15.6L1274.3 16.8L1276.3 18.2L1277.3 12.2L1282.6 11.3L1278 20.2L1275.6 19.6L1273 18.8Z" fill="#7b7a20" stroke="#5b6a30" stroke-width="0.5"/>
<path d="M1270.5 22.5L1273 17.5M1278.5 14L1280.5 12.5M1278 17L1279 15.5" stroke="#2fbf5a" stroke-width="0.9" stroke-dasharray="0.9 1.4"/>
<text x="1297.63" y="73.9" font-size="11" fill="#111" textLength="42.49" lengthAdjust="spacingAndGlyphs">1.27500</text>
<text x="1297.63" y="160.9" font-size="11" fill="#111" textLength="42.49" lengthAdjust="spacingAndGlyphs">1.25000</text>
<text x="1297.63" y="247.9" font-size="11" fill="#111" textLength="42.49" lengthAdjust="spacingAndGlyphs">1.22500</text>
<text x="1297.63" y="334.9" font-size="11" fill="#111" textLength="42.49" lengthAdjust="spacingAndGlyphs">1.20000</text>
<text x="1297.63" y="422.9" font-size="11" fill="#111" textLength="42.49" lengthAdjust="spacingAndGlyphs">1.17500</text>
<rect x="1294.5" y="37.8" width="49" height="19" fill="#a8a8a8" opacity="0.7"/>
<rect x="1291.7" y="36.5" width="49.6" height="18.7" fill="#f4f2de" stroke="#111" stroke-width="1.3"/>
<line x1="1292" y1="38.3" x2="1292" y2="53.3" stroke="#bbb" stroke-width="1" stroke-dasharray="2 1"/>
<text x="1295.66" y="47.9" font-size="11" fill="#111" textLength="41.19" lengthAdjust="spacingAndGlyphs">1.28264</text>
<rect x="1293" y="124.6" width="49" height="19" fill="#f4f2de" stroke="#111" stroke-width="1.3"/>
<rect x="1294" y="126.6" width="49" height="19" fill="none" stroke="#aaa" stroke-width="1" opacity="0.6"/>
<rect x="1294.5" y="123.1" width="49" height="19" fill="#a8a8a8" opacity="0.7"/>
<rect x="1291.7" y="121.8" width="49.6" height="18.7" fill="#f4f2de" stroke="#111" stroke-width="1.3"/>
<line x1="1292" y1="123.6" x2="1292" y2="138.6" stroke="#bbb" stroke-width="1" stroke-dasharray="2 1"/>
<text x="1295.66" y="134.2" font-size="11" fill="#111" textLength="41.19" lengthAdjust="spacingAndGlyphs">1.25806</text>
<rect x="1294.5" y="200.8" width="49" height="19" fill="#a8a8a8" opacity="0.7"/>
<rect x="1291.7" y="199.5" width="49.6" height="18.7" fill="#f4f2de" stroke="#111" stroke-width="1.3"/>
<line x1="1292" y1="201.3" x2="1292" y2="216.3" stroke="#bbb" stroke-width="1" stroke-dasharray="2 1"/>
<text x="1295.66" y="211.9" font-size="11" fill="#111" textLength="41.19" lengthAdjust="spacingAndGlyphs">1.23566</text>
<rect x="916" y="34" width="89" height="24" fill="#fcd34d"/>
<text x="928.79" y="49.8" font-size="11" fill="#111" textLength="63.46" lengthAdjust="spacingAndGlyphs">RESISTANCE</text>
<rect x="1057" y="111" width="56" height="24" fill="#fcd34d"/>
<text x="1069.79" y="126.8" font-size="11" fill="#111" textLength="30.02" lengthAdjust="spacingAndGlyphs">PIVOT</text>
<rect x="934" y="202" width="73" height="24" fill="#fcd34d"/>
<text x="945.08" y="217.8" font-size="11" fill="#111" textLength="48.7" lengthAdjust="spacingAndGlyphs">SUPPORT</text>
<g stroke="#2b3f9b" stroke-width="2" fill="none" stroke-linecap="butt">
<path d="M1079 57.5L1079.6 97.5M1070 69.5L1077.3 57M1080.3 57L1091.7 69.5"/>
<path d="M1086 153V195.6M1070.6 181.7L1086.2 191.8M1088.5 193.3L1097.1 177.3"/>
</g>
<path d="M1022.5 117.6L1027.6 112.2L1033 117.6Z" fill="#9a9a9a"/>
<rect x="1022" y="117" width="11" height="1.4" fill="#2e9a4a"/>
<rect x="1042.5" y="270.5" width="125" height="88" fill="#fff" fill-opacity="0.8" stroke="#8c8c8c" stroke-width="1"/>
<text x="1049.57" y="285.9" font-size="11" fill="#111" textLength="77.61" lengthAdjust="spacingAndGlyphs" font-weight="bold">USDCAD (Bid)</text>
<text x="1052.98" y="298.9" font-size="11" fill="#111" textLength="106.91" lengthAdjust="spacingAndGlyphs">10-Apr-2015 8:00 AM</text>
<text x="1053.27" y="312.8" font-size="11" fill="#111" textLength="27.68" lengthAdjust="spacingAndGlyphs">Open</text>
<text x="1117.63" y="312.8" font-size="11" fill="#111" textLength="42.49" lengthAdjust="spacingAndGlyphs">1.26373</text>
<text x="1053.93" y="325.9" font-size="11" fill="#111" textLength="21.87" lengthAdjust="spacingAndGlyphs">High</text>
<text x="1117.63" y="325.9" font-size="11" fill="#111" textLength="42.49" lengthAdjust="spacingAndGlyphs">1.26645</text>
<text x="1053.47" y="339.8" font-size="11" fill="#111" textLength="20.72" lengthAdjust="spacingAndGlyphs">Low</text>
<text x="1117.63" y="339.8" font-size="11" fill="#111" textLength="42.49" lengthAdjust="spacingAndGlyphs">1.25692</text>
<text x="1053.37" y="353.3" font-size="11" fill="#111" textLength="26.15" lengthAdjust="spacingAndGlyphs">Close</text>
<text x="1117.63" y="353.3" font-size="11" fill="#111" textLength="42.49" lengthAdjust="spacingAndGlyphs">1.25806</text>
<text x="0.98" y="487.7" font-size="9.5" fill="#7c7c7c" textLength="73.82" lengthAdjust="spacingAndGlyphs">INDICATIVE PRICE</text>
<text x="81.6" y="487.7" font-size="9.5" fill="#7c7c7c" textLength="155.5" lengthAdjust="spacingAndGlyphs">Time Zone: Eastern Time (US &amp; Canada)</text>
<text x="41.5" y="502" font-size="11" fill="#111" textLength="13.03" lengthAdjust="spacingAndGlyphs" text-anchor="middle">19</text>
<text x="123.3" y="502" font-size="11" fill="#111" textLength="13.03" lengthAdjust="spacingAndGlyphs" text-anchor="middle">26</text>
<text x="212" y="502" font-size="11" fill="#111" textLength="13.03" lengthAdjust="spacingAndGlyphs" text-anchor="middle">02</text>
<text x="300.2" y="502" font-size="11" fill="#111" textLength="13.03" lengthAdjust="spacingAndGlyphs" text-anchor="middle">09</text>
<text x="390" y="502" font-size="11" fill="#111" textLength="13.03" lengthAdjust="spacingAndGlyphs" text-anchor="middle">16</text>
<text x="479.2" y="502" font-size="11" fill="#111" textLength="13.03" lengthAdjust="spacingAndGlyphs" text-anchor="middle">23</text>
<text x="568" y="502" font-size="11" fill="#111" textLength="13.03" lengthAdjust="spacingAndGlyphs" text-anchor="middle">02</text>
<text x="656.1" y="502" font-size="11" fill="#111" textLength="13.03" lengthAdjust="spacingAndGlyphs" text-anchor="middle">09</text>
<text x="746" y="502" font-size="11" fill="#111" textLength="13.03" lengthAdjust="spacingAndGlyphs" text-anchor="middle">16</text>
<text x="835.3" y="502" font-size="11" fill="#111" textLength="13.03" lengthAdjust="spacingAndGlyphs" text-anchor="middle">23</text>
<text x="924" y="502" font-size="11" fill="#111" textLength="13.03" lengthAdjust="spacingAndGlyphs" text-anchor="middle">30</text>
<text x="1012.1" y="502" font-size="11" fill="#111" textLength="13.03" lengthAdjust="spacingAndGlyphs" text-anchor="middle">06</text>
<text x="1103" y="502" font-size="11" fill="#111" textLength="13.03" lengthAdjust="spacingAndGlyphs" text-anchor="middle">13</text>
<text x="1192.2" y="502" font-size="11" fill="#111" textLength="13.03" lengthAdjust="spacingAndGlyphs" text-anchor="middle">20</text>
<text x="1261.3" y="502" font-size="11" fill="#111" textLength="13.03" lengthAdjust="spacingAndGlyphs" text-anchor="middle">27</text>
<text x="46.3" y="516.6" font-size="11" fill="#111" textLength="68.4" lengthAdjust="spacingAndGlyphs">January 2015</text>
<text x="300.1" y="516.6" font-size="11" fill="#111" textLength="72.5" lengthAdjust="spacingAndGlyphs">February 2015</text>
<text x="683.8" y="516.6" font-size="11" fill="#111" textLength="58.8" lengthAdjust="spacingAndGlyphs">March 2015</text>
<text x="1074.5" y="516.6" font-size="11" fill="#111" textLength="49.1" lengthAdjust="spacingAndGlyphs">April 2015</text>
</svg></body></html>
